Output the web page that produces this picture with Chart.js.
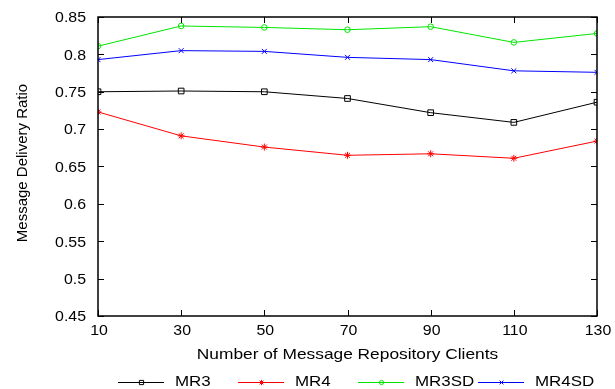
<!DOCTYPE html>
<html>
<head>
<meta charset="utf-8">
<script src="https://cdn.jsdelivr.net/npm/chart.js@4/dist/chart.umd.min.js"></script>
<style>
    html, body { margin: 0; padding: 0; background: #fff; }
    #wrap { width: 615px; height: 389px; }
</style>
</head>
<body>
<div id="wrap"><canvas id="deliveryChart" width="615" height="389"></canvas></div>
<script>
const clients = [10, 30, 50, 70, 90, 110, 130];
const mr3 = [0.750, 0.751, 0.750, 0.741, 0.722, 0.709, 0.736];
const mr4 = [0.723, 0.691, 0.676, 0.665, 0.667, 0.661, 0.684];
const mr3sd = [0.811, 0.838, 0.836, 0.833, 0.837, 0.816, 0.828];
const mr4sd = [0.793, 0.805, 0.804, 0.796, 0.793, 0.778, 0.776];
const seriesNames = ['MR3', 'MR4', 'MR3SD', 'MR4SD'];
const xTitle = 'Number of Message Repository Clients';
const yTitle = 'Message Delivery Ratio';

const FONT = "'Liberation Sans', Arial, sans-serif";

function toPoints(values) {
    return clients.map((c, i) => ({ x: c, y: values[i] }));
}

function makeSet(label, values, color, style, radius) {
    return {
        label: label,
        data: toPoints(values),
        borderColor: color,
        backgroundColor: 'transparent',
        pointBorderColor: color,
        pointBackgroundColor: 'transparent',
        pointStyle: style,
        pointRadius: radius,
        pointBorderWidth: 1,
        borderWidth: 1,
        fill: false,
        tension: 0
    };
}

// the original text is a bit wider than Liberation Sans, so stretch it sideways
function drawText(ctx, text, x, y, size, stretch, align, rotate) {
    ctx.save();
    ctx.translate(x, y);
    if (rotate) ctx.rotate(rotate);
    ctx.scale(stretch, 1);
    ctx.font = size + 'px ' + FONT;
    ctx.fillStyle = '#000';
    ctx.textAlign = align;
    ctx.textBaseline = 'middle';
    ctx.fillText(text, 0, 0);
    ctx.restore();
}

// frame with inward ticks on all four sides, plus labels and titles
const framePlugin = {
    id: 'frame',
    afterDraw(chart) {
        let ctx = chart.ctx;
        let area = chart.chartArea;
        let xs = chart.scales.x;
        let ys = chart.scales.y;
        let len = 6;
        ctx.save();
        ctx.strokeStyle = '#000';
        ctx.lineWidth = 1;
        ctx.beginPath();
        xs.ticks.forEach(t => {
            let px = Math.round(xs.getPixelForValue(t.value)) + 0.5;
            ctx.moveTo(px, area.bottom);
            ctx.lineTo(px, area.bottom - len);
            ctx.moveTo(px, area.top);
            ctx.lineTo(px, area.top + len);
        });
        ys.ticks.forEach(t => {
            let py = Math.round(ys.getPixelForValue(t.value)) + 0.5;
            ctx.moveTo(area.left, py);
            ctx.lineTo(area.left + len, py);
            ctx.moveTo(area.right, py);
            ctx.lineTo(area.right - len, py);
        });
        ctx.stroke();
        ctx.lineWidth = 1.5;
        ctx.strokeRect(area.left, area.top, area.right - area.left, area.bottom - area.top);
        ctx.restore();

        xs.ticks.forEach(t => {
            drawText(ctx, String(t.value), xs.getPixelForValue(t.value) + 1, area.bottom + 15, 14, 1.135, 'center');
        });
        ys.ticks.forEach(t => {
            let label = parseFloat(t.value.toFixed(2)).toString();
            drawText(ctx, label, area.left - 12, ys.getPixelForValue(t.value) + 1.5, 14, 1.135, 'right');
        });
        drawText(ctx, xTitle, (area.left + area.right) / 2, 355, 15, 1.155, 'center');
        drawText(ctx, yTitle, 23, 163, 15, 1, 'center', -Math.PI / 2);
    }
};

// legend row: line sample with marker in the middle, then label
const legendPlugin = {
    id: 'lineLegend',
    afterDraw(chart) {
        let ctx = chart.ctx;
        let y = 382;
        let startX = 118;
        let step = 120;
        chart.data.datasets.forEach((ds, i) => {
            let x0 = startX + i * step;
            ctx.save();
            ctx.strokeStyle = ds.borderColor;
            ctx.fillStyle = 'rgba(0,0,0,0)';
            ctx.lineWidth = 1;
            ctx.beginPath();
            ctx.moveTo(x0, y + 0.5);
            ctx.lineTo(x0 + 46, y + 0.5);
            ctx.stroke();
            Chart.helpers.drawPoint(ctx, {
                pointStyle: ds.pointStyle,
                radius: ds.pointRadius * 0.75,
                borderWidth: 1,
                rotation: 0
            }, x0 + 23.5, y + 0.5);
            ctx.restore();
            drawText(ctx, ds.label, x0 + 57, y - 0.5, 15, 1.13, 'left');
        });
    }
};

new Chart(document.getElementById('deliveryChart'), {
    type: 'line',
    data: {
        datasets: [
            makeSet(seriesNames[0], mr3, '#000000', 'rect', 4),
            makeSet(seriesNames[1], mr4, '#ff0000', 'star', 3.5),
            makeSet(seriesNames[2], mr3sd, '#00e600', 'circle', 2.8),
            makeSet(seriesNames[3], mr4sd, '#0000ff', 'crossRot', 3.5)
        ]
    },
    options: {
        responsive: false,
        animation: false,
        devicePixelRatio: 1,
        layout: { padding: { top: 17, right: 18, bottom: 0, left: 0 } },
        plugins: {
            legend: { display: false },
            tooltip: { enabled: false }
        },
        scales: {
            x: {
                type: 'linear',
                min: 10,
                max: 130,
                grid: { display: false, drawTicks: false },
                border: { display: false },
                ticks: { stepSize: 20, display: false },
                afterFit(scale) { scale.height = 73; }
            },
            y: {
                min: 0.45,
                max: 0.85,
                grid: { display: false, drawTicks: false },
                border: { display: false },
                ticks: { stepSize: 0.05, display: false },
                afterFit(scale) { scale.width = 98; }
            }
        }
    },
    plugins: [framePlugin, legendPlugin]
});
</script>
</body>
</html>
